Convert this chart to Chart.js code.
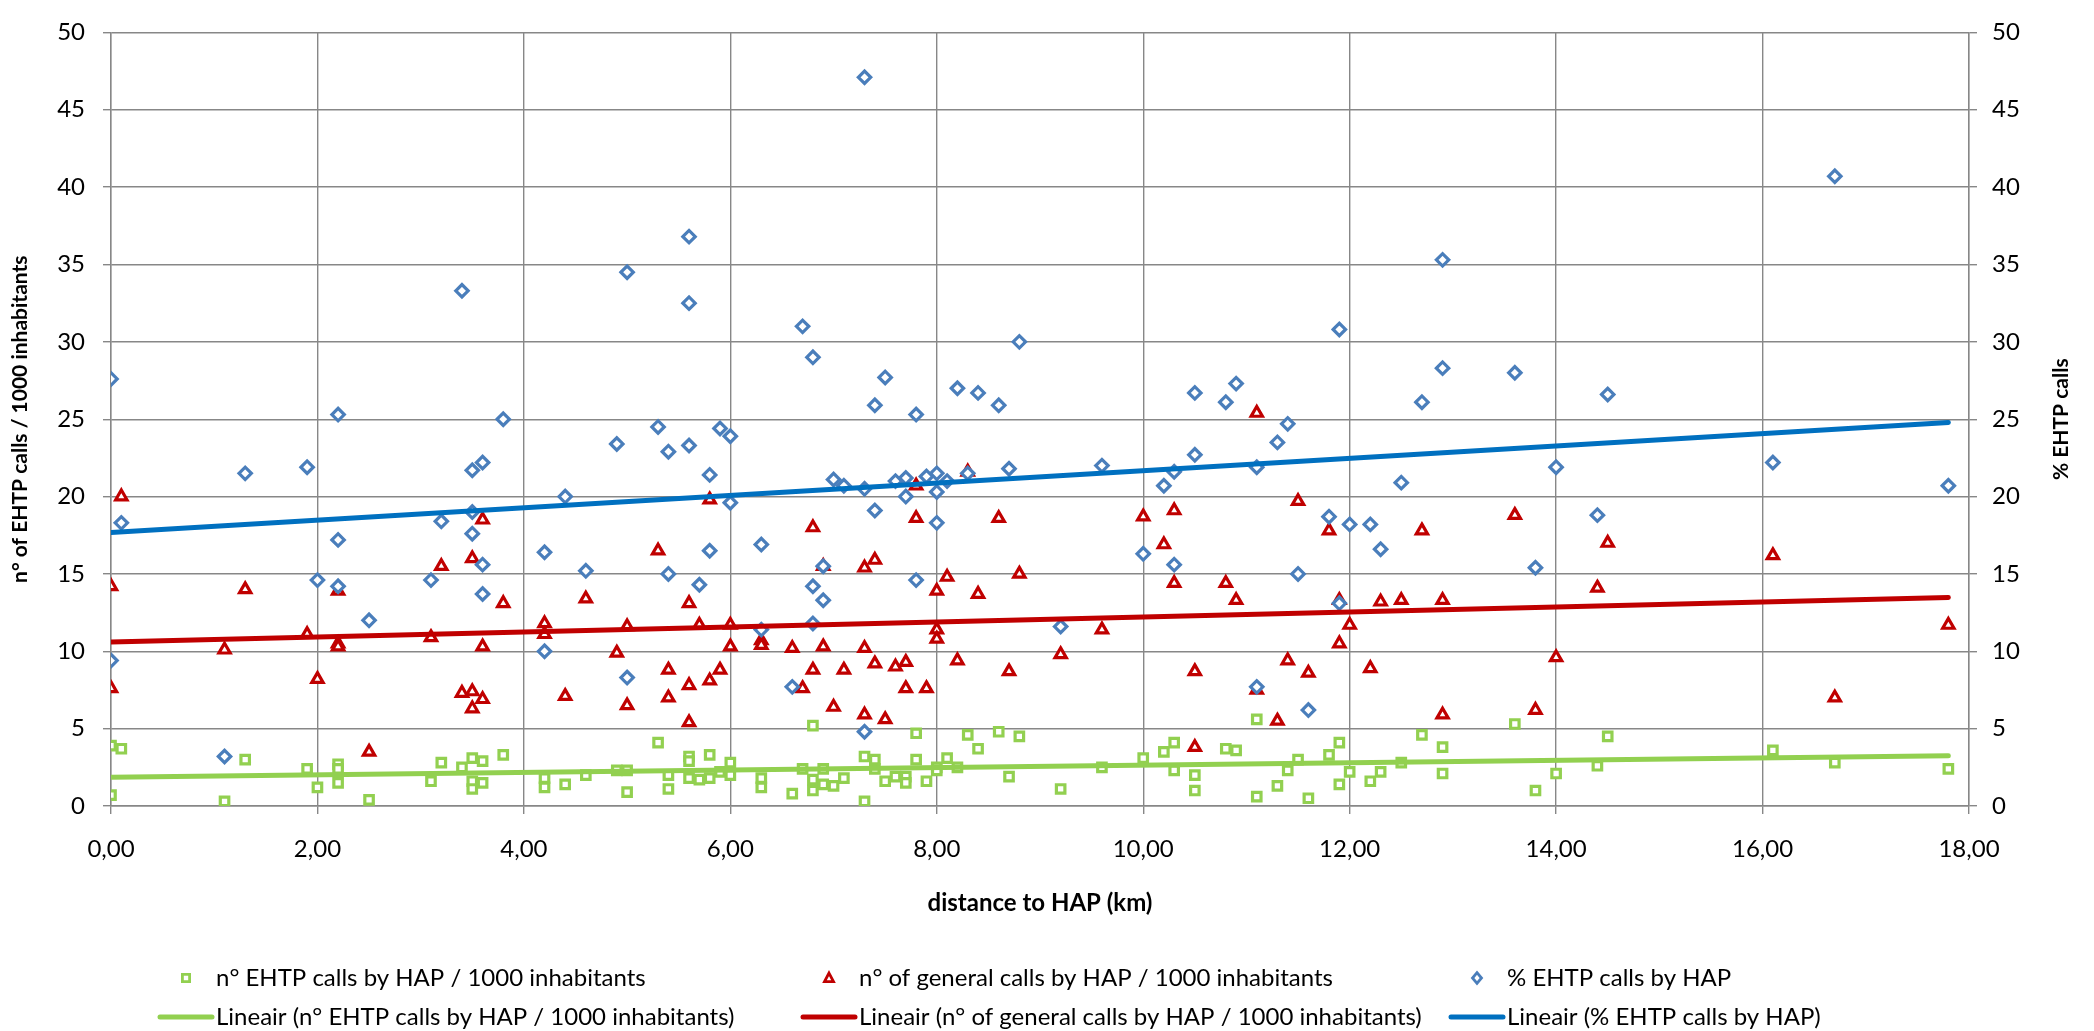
<!DOCTYPE html>
<html>
<head>
<meta charset="utf-8">
<script src="https://cdn.jsdelivr.net/npm/chart.js@4"></script>
<style>
  html, body { margin: 0; padding: 0; background: #fff; }
</style>
</head>
<body>
<canvas id="chart" width="2094" height="1031"></canvas>
<script>
// [distance to HAP (km), value]
const ehtpPoints = [
  [0,3.9],[0,0.7],[0.1,3.7],[1.1,0.3],[1.3,3.0],[1.9,2.4],[2.0,1.2],[2.2,2.7],[2.2,2.4],[2.2,1.5],
  [2.5,0.4],[3.1,1.6],[3.2,2.8],[3.4,2.5],[3.5,3.1],[3.5,1.6],[3.5,1.1],[3.6,2.9],[3.6,1.5],[3.8,3.3],
  [4.2,1.8],[4.2,1.2],[4.4,1.4],[4.6,2.0],[4.9,2.3],[5.0,2.3],[5.0,0.9],[5.3,4.1],[5.4,2.0],[5.4,1.1],
  [5.6,3.2],[5.6,2.9],[5.6,1.8],[5.7,1.7],[5.8,3.3],[5.8,1.8],[5.9,2.2],[6.0,2.8],[6.0,2.0],[6.3,1.8],
  [6.3,1.2],[6.6,0.8],[6.7,2.4],[6.8,5.2],[6.8,1.7],[6.8,1.0],[6.9,2.4],[6.9,1.4],[7.0,1.3],[7.1,1.8],
  [7.3,3.2],[7.3,0.3],[7.4,3.0],[7.4,2.4],[7.5,1.6],[7.6,1.9],[7.7,1.9],[7.7,1.5],[7.8,4.7],[7.8,3.0],
  [7.9,1.6],[8.0,2.5],[8.0,2.3],[8.1,3.1],[8.2,2.5],[8.3,4.6],[8.4,3.7],[8.6,4.8],[8.7,1.9],[8.8,4.5],
  [9.2,1.1],[9.6,2.5],[10.0,3.1],[10.2,3.5],[10.3,4.1],[10.3,2.3],[10.5,2.0],[10.5,1.0],[10.8,3.7],[10.9,3.6],
  [11.1,5.6],[11.1,0.6],[11.3,1.3],[11.4,2.3],[11.5,3.0],[11.6,0.5],[11.8,3.3],[11.9,4.1],[11.9,1.4],[12.0,2.2],
  [12.2,1.6],[12.3,2.2],[12.5,2.8],[12.7,4.6],[12.9,3.8],[12.9,2.1],[13.6,5.3],[13.8,1.0],[14.0,2.1],[14.4,2.6],
  [14.5,4.5],[16.1,3.6],[16.7,2.8],[17.8,2.4]
];

const generalPoints = [
  [0,14.2],[0,7.6],[0.1,20.0],[1.1,10.1],[1.3,14.0],[1.9,11.1],[2.0,8.2],[2.2,13.9],[2.2,10.5],[2.2,10.3],
  [2.5,3.5],[3.1,10.9],[3.2,15.5],[3.4,7.3],[3.5,16.0],[3.5,7.4],[3.5,6.3],[3.6,18.5],[3.6,10.3],[3.6,6.9],
  [3.8,13.1],[4.2,11.8],[4.2,11.1],[4.4,7.1],[4.6,13.4],[4.9,9.9],[5.0,11.6],[5.0,6.5],[5.3,16.5],[5.4,8.8],
  [5.4,7.0],[5.6,13.1],[5.6,7.8],[5.6,5.4],[5.7,11.7],[5.8,19.8],[5.8,8.1],[5.9,8.8],[6.0,11.7],[6.0,10.3],
  [6.3,10.7],[6.3,10.4],[6.6,10.2],[6.7,7.6],[6.8,18.0],[6.8,8.8],[6.9,15.5],[6.9,10.3],[7.0,6.4],[7.1,8.8],
  [7.3,15.4],[7.3,10.2],[7.3,5.9],[7.4,15.9],[7.4,9.2],[7.5,5.6],[7.6,9.0],[7.7,9.3],[7.7,7.6],[7.8,20.7],
  [7.8,18.6],[7.9,7.6],[8.0,13.9],[8.0,11.4],[8.0,10.8],[8.1,14.8],[8.2,9.4],[8.3,21.6],[8.4,13.7],[8.6,18.6],
  [8.7,8.7],[8.8,15.0],[9.2,9.8],[9.6,11.4],[10.0,18.7],[10.2,16.9],[10.3,19.1],[10.3,14.4],[10.5,8.7],[10.5,3.8],
  [10.8,14.4],[10.9,13.3],[11.1,25.4],[11.1,7.5],[11.3,5.5],[11.4,9.4],[11.5,19.7],[11.6,8.6],[11.8,17.8],[11.9,13.3],
  [11.9,10.5],[12.0,11.7],[12.2,8.9],[12.3,13.2],[12.5,13.3],[12.7,17.8],[12.9,13.3],[12.9,5.9],[13.6,18.8],[13.8,6.2],
  [14.0,9.6],[14.4,14.1],[14.5,17.0],[16.1,16.2],[16.7,7.0],[17.8,11.7]
];

const pctPoints = [
  [0,27.6],[0,9.4],[0.1,18.3],[1.1,3.2],[1.3,21.5],[1.9,21.9],[2.0,14.6],[2.2,25.3],[2.2,17.2],[2.2,14.2],
  [2.5,12.0],[3.1,14.6],[3.2,18.4],[3.4,33.3],[3.5,21.7],[3.5,19.0],[3.5,17.6],[3.6,22.2],[3.6,15.6],[3.6,13.7],
  [3.8,25.0],[4.2,16.4],[4.2,10.0],[4.4,20.0],[4.6,15.2],[4.9,23.4],[5.0,34.5],[5.0,8.3],[5.3,24.5],[5.4,22.9],
  [5.4,15.0],[5.6,36.8],[5.6,32.5],[5.6,23.3],[5.7,14.3],[5.8,21.4],[5.8,16.5],[5.9,24.4],[6.0,23.9],[6.0,19.6],
  [6.3,16.9],[6.3,11.4],[6.6,7.7],[6.7,31.0],[6.8,29.0],[6.8,14.2],[6.8,11.8],[6.9,15.5],[6.9,13.3],[7.0,21.1],
  [7.1,20.7],[7.3,47.1],[7.3,20.5],[7.3,4.8],[7.4,25.9],[7.4,19.1],[7.5,27.7],[7.6,21.0],[7.7,21.2],[7.7,20.0],
  [7.8,25.3],[7.8,14.6],[7.9,21.3],[8.0,21.5],[8.0,20.3],[8.0,18.3],[8.1,21.0],[8.2,27.0],[8.3,21.5],[8.4,26.7],
  [8.6,25.9],[8.7,21.8],[8.8,30.0],[9.2,11.6],[9.6,22.0],[10.0,16.3],[10.2,20.7],[10.3,21.6],[10.3,15.6],[10.5,26.7],
  [10.5,22.7],[10.8,26.1],[10.9,27.3],[11.1,21.9],[11.1,7.7],[11.3,23.5],[11.4,24.7],[11.5,15.0],[11.6,6.2],[11.8,18.7],
  [11.9,30.8],[11.9,13.1],[12.0,18.2],[12.2,18.2],[12.3,16.6],[12.5,20.9],[12.7,26.1],[12.9,35.3],[12.9,28.3],[13.6,28.0],
  [13.8,15.4],[14.0,21.9],[14.4,18.8],[14.5,26.6],[16.1,22.2],[16.7,40.7],[17.8,20.7]
];

// linear trendlines (Excel "Lineair"), start and end values
const trendX = [0, 17.8];
const ehtpTrend = [1.86, 3.24];
const generalTrend = [10.6, 13.48];
const pctTrend = [17.68, 24.79];

const xTickLabels = ['0,00', '2,00', '4,00', '6,00', '8,00', '10,00', '12,00', '14,00', '16,00', '18,00'];

const labels = [
  'n° EHTP calls by HAP / 1000 inhabitants',
  'n° of general calls by HAP / 1000 inhabitants',
  '% EHTP calls by HAP',
  'Lineair (n° EHTP calls by HAP / 1000 inhabitants)',
  'Lineair (n° of general calls by HAP / 1000 inhabitants)',
  'Lineair (% EHTP calls by HAP)'
];

const FONT = 'Lato, "Open Sans", sans-serif';
const GRID = '#878787';

const toXY = pts => pts.map(p => ({x: p[0], y: p[1]}));
const trendXY = vals => trendX.map((x, i) => ({x: x, y: vals[i]}));

function scatterSet(label, pts, color, style, radius, axis, order) {
  return {
    label: label, data: toXY(pts), yAxisID: axis, order: order,
    pointStyle: style, pointRadius: radius, pointHoverRadius: radius,
    pointBorderWidth: 3.2, borderColor: color, pointBorderColor: color,
    backgroundColor: '#ffffff', pointBackgroundColor: '#ffffff', showLine: false
  };
}

function trendSet(label, vals, color, axis) {
  return {
    label: label, data: trendXY(vals), yAxisID: axis, order: 0,
    showLine: true, borderColor: color, borderWidth: 5, pointRadius: 0,
    fill: false, borderCapStyle: 'round'
  };
}

// excel style legend, 3 columns x 2 rows, plus the right axis title read bottom-up
const excelBits = {
  id: 'excelBits',
  afterDraw(chart) {
    const ctx = chart.ctx;
    const area = chart.chartArea;
    ctx.save();
    ctx.translate(2061, (area.top + area.bottom) / 2);
    ctx.rotate(-Math.PI / 2);
    ctx.font = 'bold 21px ' + FONT;
    ctx.fillStyle = '#000';
    ctx.textAlign = 'center';
    ctx.textBaseline = 'middle';
    ctx.fillText('% EHTP calls', 0, 0);
    ctx.restore();

    const cols = [158, 801, 1449];
    const rows = [978, 1017];
    ctx.save();
    ctx.font = '24px ' + FONT;
    ctx.textBaseline = 'middle';
    ctx.textAlign = 'left';
    chart.data.datasets.forEach((ds, i) => {
      const x0 = cols[i % 3];
      const y = rows[Math.floor(i / 3)];
      ctx.strokeStyle = ds.borderColor;
      if (ds.showLine) {
        ctx.lineWidth = ds.borderWidth;
        ctx.lineCap = 'round';
        ctx.beginPath();
        ctx.moveTo(x0 + 2, y);
        ctx.lineTo(x0 + 54, y);
        ctx.stroke();
      } else {
        const cx = x0 + 28, r = 4.5;
        ctx.lineWidth = 2.8;
        ctx.fillStyle = '#fff';
        ctx.beginPath();
        if (ds.pointStyle === 'rect') {
          ctx.rect(cx - r * 0.8, y - r * 0.8, r * 1.6, r * 1.6);
        } else if (ds.pointStyle === 'triangle') {
          ctx.moveTo(cx, y - r * 1.1);
          ctx.lineTo(cx + r, y + r * 0.8);
          ctx.lineTo(cx - r, y + r * 0.8);
          ctx.closePath();
        } else {
          ctx.moveTo(cx, y - r * 1.2);
          ctx.lineTo(cx + r, y);
          ctx.lineTo(cx, y + r * 1.2);
          ctx.lineTo(cx - r, y);
          ctx.closePath();
        }
        ctx.fill();
        ctx.stroke();
      }
      ctx.fillStyle = '#000';
      ctx.fillText(ds.label, x0 + 58, y);
    });
    ctx.restore();
  }
};

new Chart(document.getElementById('chart'), {
  type: 'scatter',
  data: {
    datasets: [
      scatterSet(labels[0], ehtpPoints, '#92d050', 'rect', 6, 'y', 3),
      scatterSet(labels[1], generalPoints, '#c00000', 'triangle', 6.5, 'y', 2),
      scatterSet(labels[2], pctPoints, '#4a7ebb', 'rectRot', 6.2, 'y2', 1),
      trendSet(labels[3], ehtpTrend, '#92d050', 'y'),
      trendSet(labels[4], generalTrend, '#c00000', 'y'),
      trendSet(labels[5], pctTrend, '#0070c0', 'y2')
    ]
  },
  options: {
    responsive: false,
    animation: false,
    layout: { padding: { top: 20, bottom: 113, left: 0, right: 0 } },
    plugins: {
      legend: { display: false },
      tooltip: { enabled: false }
    },
    scales: {
      x: {
        type: 'linear', min: 0, max: 18,
        afterFit: s => { s.height = 112; },
        ticks: {
          stepSize: 2, padding: 21, color: '#000',
          font: { family: FONT, size: 24 },
          callback: v => xTickLabels[Math.round(v / 2)]
        },
        grid: { color: GRID, lineWidth: 1.4, tickLength: 8 },
        border: { color: GRID, width: 1.4 },
        title: {
          display: true, text: 'distance to HAP (km)', color: '#000',
          font: { family: FONT, size: 24, weight: 'bold' }, padding: { top: 0, bottom: 0 }
        }
      },
      y: {
        position: 'left', min: 0, max: 50,
        afterFit: s => { s.width = 111; },
        ticks: { stepSize: 5, padding: 18, color: '#000', font: { family: FONT, size: 24 } },
        grid: { color: GRID, lineWidth: 1.4, tickLength: 8 },
        border: { color: GRID, width: 1.4 },
        title: {
          display: true, text: 'n° of EHTP calls / 1000 inhabitants', color: '#000',
          font: { family: FONT, size: 21, weight: 'bold' }, padding: { top: 8, bottom: 0 }
        }
      },
      y2: {
        position: 'right', min: 0, max: 50,
        afterFit: s => { s.width = 125; },
        ticks: { stepSize: 5, padding: 15, color: '#000', font: { family: FONT, size: 24 } },
        grid: { drawOnChartArea: false, color: GRID, lineWidth: 1.4, tickLength: 8 },
        border: { color: GRID, width: 1.4 }
      }
    }
  },
  plugins: [excelBits]
});
</script>
</body>
</html>
